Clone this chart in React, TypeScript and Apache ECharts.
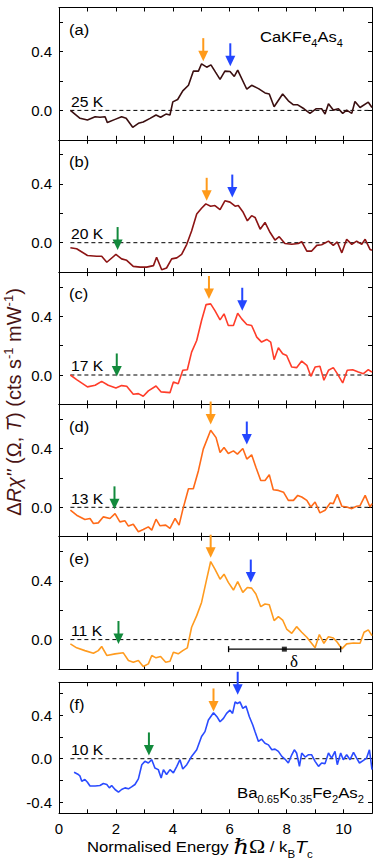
import React, { useEffect, useRef } from 'react';
import * as echarts from 'echarts';

const FONT = '"Liberation Sans", Arial, Helvetica, sans-serif';
const SERIF = '"Liberation Serif", "DejaVu Serif", serif';

// ---- data (x = normalised energy, y = ΔRχ'') ----
const PANEL_A: number[][] = [
  [0.40, 0.00], [0.74, -0.054], [1.00, -0.065], [1.27, -0.043], [1.44, -0.047], [1.62, -0.043], [1.70, -0.083],
  [1.97, -0.061], [2.20, -0.043], [2.36, -0.054], [2.59, -0.115], [2.79, -0.088], [2.96, -0.079], [3.20, -0.054],
  [3.41, -0.031], [3.57, -0.047], [3.76, -0.025], [3.90, -0.031], [4.00, 0.058], [4.17, 0.074], [4.35, 0.133],
  [4.55, 0.171], [4.72, 0.267], [4.90, 0.267], [5.01, 0.317], [5.19, 0.294], [5.34, 0.310], [5.50, 0.26], [5.66, 0.211],
  [5.83, 0.267], [6.01, 0.265], [6.16, 0.231], [6.28, 0.274], [6.60, 0.144], [6.77, 0.171], [7.01, 0.148],
  [7.24, 0.119], [7.39, 0.112], [7.56, 0.025], [7.86, 0.112], [8.06, 0.065], [8.24, 0.038], [8.39, 0.038],
  [8.61, 0.011], [8.82, -0.020], [9.03, 0.011], [9.23, 0.011], [9.35, -0.025], [9.47, 0.045], [9.64, 0.002],
  [9.82, 0.011], [9.97, -0.020], [10.11, 0.002], [10.29, -0.020], [10.40, 0.061], [10.58, 0.020], [10.87, 0.056],
  [11.00, 0.020],
];
const PANEL_B: number[][] = [
  [0.40, -0.034], [0.62, -0.041], [1.00, -0.087], [1.32, -0.092], [1.50, -0.092], [1.68, -0.133], [2.00, -0.080],
  [2.20, -0.110], [2.38, -0.120], [2.61, -0.161], [2.85, -0.166], [3.08, -0.166], [3.32, -0.156], [3.43, -0.099],
  [3.61, -0.184], [3.78, -0.172], [3.96, -0.110], [4.14, -0.103], [4.31, -0.080], [4.49, -0.011], [4.66, 0.080],
  [4.84, 0.195], [5.01, 0.234], [5.16, 0.264], [5.33, 0.248], [5.48, 0.253], [5.66, 0.225], [5.83, 0.285],
  [6.01, 0.276], [6.19, 0.248], [6.30, 0.253], [6.46, 0.211], [6.62, 0.149], [6.77, 0.184], [6.89, 0.172],
  [7.07, 0.092], [7.24, 0.138], [7.42, 0.069], [7.59, 0.018], [7.74, 0.041], [7.94, -0.005], [8.18, -0.011],
  [8.41, -0.005], [8.53, 0.007], [8.71, -0.057], [8.88, -0.057], [9.06, -0.018], [9.23, -0.014], [9.47, 0.011],
  [9.64, -0.018], [9.78, 0.005], [9.94, -0.069], [10.11, 0.023], [10.29, -0.011], [10.46, 0.011], [10.64, -0.011],
  [10.76, 0.023], [10.93, -0.046], [11.00, -0.051],
];
const PANEL_C: number[][] = [
  [0.40, 0.000], [0.62, -0.032], [1.00, -0.081], [1.27, -0.070], [1.50, -0.043], [1.73, -0.070], [2.00, -0.088],
  [2.20, -0.072], [2.38, -0.077], [2.61, -0.131], [2.79, -0.127], [2.96, -0.145], [3.14, -0.108], [3.41, -0.075],
  [3.59, -0.115], [3.90, -0.120], [4.02, -0.047], [4.19, -0.059], [4.35, 0.032], [4.51, 0.036], [4.66, 0.156],
  [4.84, 0.235], [5.01, 0.371], [5.17, 0.479], [5.33, 0.484], [5.48, 0.438], [5.66, 0.375], [5.80, 0.416],
  [5.95, 0.337], [6.13, 0.337], [6.28, 0.420], [6.42, 0.382], [6.60, 0.344], [6.77, 0.337], [6.95, 0.258],
  [7.12, 0.224], [7.30, 0.242], [7.44, 0.224], [7.56, 0.104], [7.71, 0.185], [7.86, 0.145], [8.00, 0.133],
  [8.18, 0.054], [8.35, 0.050], [8.53, 0.095], [8.71, 0.066], [8.85, -0.009], [9.00, 0.054], [9.17, 0.059],
  [9.31, -0.036], [9.47, 0.032], [9.64, 0.050], [9.78, 0.009], [9.97, -0.054], [10.13, 0.032], [10.32, 0.036],
  [10.52, 0.020], [10.70, 0.009], [10.87, 0.036], [11.00, 0.020],
];
const PANEL_D: number[][] = [
  [0.40, -0.020], [0.62, -0.054], [0.91, -0.083], [1.09, -0.076], [1.21, -0.110], [1.38, -0.106], [1.56, -0.065],
  [1.79, -0.076], [1.97, -0.043], [2.14, -0.099], [2.32, -0.092], [2.44, -0.128], [2.61, -0.115], [2.79, -0.166],
  [2.96, -0.151], [3.14, -0.133], [3.26, -0.155], [3.41, -0.081], [3.55, -0.126], [3.75, -0.121], [3.90, -0.144],
  [4.08, -0.076], [4.22, -0.121], [4.35, -0.016], [4.55, 0.126], [4.72, 0.126], [4.90, 0.249], [5.07, 0.396],
  [5.33, 0.524], [5.52, 0.474], [5.66, 0.373], [5.80, 0.407], [5.95, 0.366], [6.13, 0.384], [6.27, 0.362],
  [6.46, 0.400], [6.60, 0.328], [6.77, 0.357], [6.92, 0.272], [7.09, 0.182], [7.24, 0.182], [7.39, 0.222],
  [7.53, 0.119], [7.71, 0.115], [7.89, 0.103], [8.06, 0.047], [8.24, 0.047], [8.39, 0.081], [8.53, 0.070],
  [8.71, 0.047], [8.85, 0.002], [9.00, 0.036], [9.17, -0.038], [9.35, -0.020], [9.53, 0.029], [9.64, 0.025],
  [9.78, 0.088], [9.94, 0.007], [10.11, 0.002], [10.29, -0.009], [10.46, 0.007], [10.58, 0.011], [10.76, 0.081],
  [10.93, 0.002], [11.00, 0.025],
];
const PANEL_E: number[][] = [
  [0.40, -0.029], [0.62, -0.056], [0.91, -0.075], [1.21, -0.093], [1.38, -0.075], [1.50, -0.047], [1.68, -0.108],
  [1.97, -0.097], [2.26, -0.090], [2.44, -0.142], [2.61, -0.154], [2.79, -0.142], [2.96, -0.183], [3.14, -0.165],
  [3.26, -0.108], [3.41, -0.124], [3.57, -0.115], [3.75, -0.154], [3.90, -0.147], [4.02, -0.086], [4.19, -0.097],
  [4.35, -0.075], [4.51, -0.056], [4.66, 0.084], [4.84, 0.163], [5.01, 0.253], [5.19, 0.411], [5.33, 0.531],
  [5.48, 0.479], [5.66, 0.411], [5.80, 0.445], [5.95, 0.389], [6.13, 0.337], [6.28, 0.395], [6.46, 0.321],
  [6.62, 0.355], [6.77, 0.350], [6.92, 0.310], [7.09, 0.224], [7.24, 0.242], [7.39, 0.237], [7.56, 0.129],
  [7.71, 0.156], [7.86, 0.133], [8.00, 0.072], [8.18, 0.043], [8.35, 0.088], [8.53, 0.050], [8.71, 0.016],
  [9.00, -0.056], [9.15, 0.034], [9.31, -0.025], [9.47, 0.020], [9.64, 0.011], [9.78, -0.018], [9.94, -0.063],
  [10.11, -0.029], [10.35, -0.023], [10.58, -0.025], [10.72, 0.050], [10.87, 0.066], [11.00, 0.027],
];
const PANEL_F: number[][] = [
  [0.53, -0.124], [0.68, -0.145], [0.74, -0.160], [0.80, -0.206], [0.91, -0.190], [1.00, -0.215], [1.09, -0.250],
  [1.27, -0.250], [1.44, -0.245], [1.56, -0.227], [1.68, -0.236], [1.77, -0.267], [1.85, -0.245], [1.97, -0.282],
  [2.09, -0.306], [2.20, -0.282], [2.32, -0.267], [2.44, -0.276], [2.55, -0.258], [2.67, -0.236], [2.79, -0.185],
  [2.91, -0.055], [3.02, -0.024], [3.14, -0.039], [3.26, -0.009], [3.37, -0.085], [3.49, -0.100], [3.59, -0.176],
  [3.67, -0.100], [3.78, -0.145], [3.90, -0.100], [4.02, -0.130], [4.14, -0.070], [4.25, -0.009], [4.35, -0.094],
  [4.49, -0.055], [4.66, 0.021], [4.84, 0.082], [5.01, 0.203], [5.13, 0.248], [5.25, 0.355], [5.43, 0.421],
  [5.55, 0.385], [5.66, 0.339], [5.78, 0.370], [5.89, 0.415], [6.01, 0.445], [6.10, 0.415], [6.19, 0.521],
  [6.27, 0.506], [6.36, 0.521], [6.46, 0.461], [6.57, 0.482], [6.69, 0.385], [6.81, 0.309], [6.89, 0.248],
  [7.01, 0.158], [7.12, 0.179], [7.24, 0.142], [7.36, 0.127], [7.48, 0.082], [7.59, 0.088], [7.71, 0.067],
  [7.83, 0.021], [7.94, -0.003], [8.06, -0.039], [8.18, 0.036], [8.27, 0.082], [8.35, 0.052], [8.45, -0.070],
  [8.53, 0.052], [8.65, 0.015], [8.76, 0.036], [8.88, 0.036], [9.00, -0.024], [9.12, -0.070], [9.23, -0.039],
  [9.35, -0.045], [9.47, 0.052], [9.58, 0.006], [9.70, 0.067], [9.78, -0.055], [9.90, 0.052], [9.99, -0.009],
  [10.11, 0.036], [10.23, -0.009], [10.35, 0.058], [10.46, 0.006], [10.56, -0.039], [10.70, -0.015], [10.81, 0.006],
  [10.91, 0.082], [11.00, -0.100],
];

// arrows: [x, tip y, kind] kind 0 = orange, 1 = blue, 2 = green
const ARROWS_A = [[5.07, 0.335, 0], [6.02, 0.30, 1]];
const ARROWS_B = [[5.19, 0.285, 0], [6.09, 0.307, 1], [2.06, -0.05, 2]];
const ARROWS_C = [[5.27, 0.517, 0], [6.44, 0.437, 1], [2.03, -0.01, 2]];
const ARROWS_D = [[5.33, 0.563, 0], [6.60, 0.427, 1], [1.95, -0.014, 2]];
const ARROWS_E = [[5.33, 0.557, 0], [6.74, 0.388, 1], [2.09, -0.03, 2]];
const ARROWS_F = [[5.43, 0.433, 0], [6.28, 0.586, 1], [3.16, 0.03, 2]];
const ARROW_COLORS = ['#ff9a1a', '#2346ff', '#128a3c'];

const DELTA_BAR = [[5.96, -0.065], [9.9, -0.065]];
const DELTA_MID = [[7.92, -0.065]];

const ZERO_LINE = [[0.4, 0], [11, 0]];
const X_TICKS = [1, 2, 3, 4, 5, 6, 7, 8, 9, 10];
const X_LABELS = [0, 2, 4, 6, 8, 10];
const Y_TICKS = [0, 0.2, 0.4, 0.6];
const Y_LABELS = [0, 0.4];
const Y_TICKS_F = [-0.4, -0.2, 0, 0.2, 0.4, 0.6];
const Y_LABELS_F = [-0.4, 0, 0.4];

const LABELS = ['(a)', '(b)', '(c)', '(d)', '(e)', '(f)'];
const TEMPS = ['25 K', '20 K', '17 K', '13 K', '11 K', '10 K'];
const COLORS = ['#3b0f10', '#8c1414', '#ff3d2a', '#ff6a18', '#ff9b1f', '#2a4bff'];

const LEFT = 59;
const WIDTH = 313;

function buildOption() {
  const datas = [PANEL_A, PANEL_B, PANEL_C, PANEL_D, PANEL_E, PANEL_F];
  const arrows = [ARROWS_A, ARROWS_B, ARROWS_C, ARROWS_D, ARROWS_E, ARROWS_F];
  const tops = [7.5, 139.8, 272.1, 404.4, 536.7, 682.3];
  const heights = [132.3, 132.3, 132.3, 132.3, 132.3, 131];
  const grids: any[] = [];
  const xAxes: any[] = [];
  const yAxes: any[] = [];
  const series: any[] = [];
  const graphics: any[] = [];

  for (let i = 0; i < 6; i++) {
    const isF = i === 5;
    const min = isF ? -0.5 : -0.2;
    const max = 0.7;
    grids.push({ left: LEFT, width: WIDTH, top: tops[i], height: heights[i] });
    const xBase = {
      type: 'value', gridIndex: i, min: 0, max: 11,
      axisLine: { show: true, onZero: false, lineStyle: { color: '#000', width: 1 } },
      axisTick: { show: true, inside: true, length: 4, customValues: X_TICKS, lineStyle: { color: '#000', width: 1 } },
      splitLine: { show: false },
    };
    xAxes.push({
      ...xBase, position: 'bottom',
      axisLabel: {
        show: isF, customValues: X_LABELS, color: '#000', fontSize: 15, fontFamily: FONT, margin: 8,
        formatter: (v: number) => String(Math.round(v)),
      },
    });
    xAxes.push({ ...xBase, position: 'top', axisLabel: { show: false } });
    const yBase = {
      type: 'value', gridIndex: i, min, max,
      axisLine: { show: true, onZero: false, lineStyle: { color: '#000', width: 1 } },
      axisTick: { show: true, inside: true, length: 4, customValues: isF ? Y_TICKS_F : Y_TICKS, lineStyle: { color: '#000', width: 1 } },
      splitLine: { show: false },
    };
    yAxes.push({
      ...yBase, position: 'left',
      axisLabel: {
        show: true, customValues: isF ? Y_LABELS_F : Y_LABELS, color: '#000', fontSize: 15, fontFamily: FONT, margin: 7,
        formatter: (v: number) => (Math.abs(v) < 1e-9 ? '0.0' : v.toFixed(1)),
      },
    });
    yAxes.push({ ...yBase, position: 'right', axisLabel: { show: false } });

    series.push({
      type: 'line', xAxisIndex: 2 * i, yAxisIndex: 2 * i, data: ZERO_LINE, symbol: 'none', silent: true,
      lineStyle: { color: '#000', width: 1, type: [4, 3] }, z: 2,
    });
    series.push({
      type: 'line', xAxisIndex: 2 * i, yAxisIndex: 2 * i, data: datas[i], symbol: 'none', showSymbol: false,
      lineStyle: { color: COLORS[i], width: 1.6 }, z: 3,
    });
    series.push({
      type: 'custom', xAxisIndex: 2 * i, yAxisIndex: 2 * i, data: arrows[i], clip: false, z: 5,
      encode: { x: 0, y: 1 },
      renderItem: (params: any, api: any) => {
        const p = api.coord([api.value(0), api.value(1)]);
        const c = ARROW_COLORS[api.value(2)];
        return {
          type: 'group',
          children: [
            { type: 'line', shape: { x1: p[0], y1: p[1] - 23, x2: p[0], y2: p[1] - 9 }, style: { stroke: c, lineWidth: 2 } },
            { type: 'polygon', shape: { points: [[p[0] - 5, p[1] - 10.5], [p[0] + 5, p[1] - 10.5], [p[0], p[1]]] }, style: { fill: c } },
          ],
        };
      },
    });

    const zeroY = tops[i] + (max / (max - min)) * heights[i];
    graphics.push({
      type: 'text', x: 69, y: tops[i] + 22, scaleX: 1.1,
      style: { text: LABELS[i], font: `15px ${FONT}`, fill: '#000', verticalAlign: 'middle', align: 'left' },
    });
    graphics.push({
      type: 'text', x: 71, y: zeroY - 8.5, scaleX: 1.12,
      style: { text: TEMPS[i], font: `14px ${FONT}`, fill: '#000', verticalAlign: 'middle', align: 'left' },
    });
  }

  // delta bar in panel (e)
  series.push({
    type: 'line', xAxisIndex: 8, yAxisIndex: 8, data: DELTA_BAR, symbol: 'rect', symbolSize: [1.3, 6], showSymbol: true,
    itemStyle: { color: '#000' }, lineStyle: { color: '#000', width: 1.2 }, z: 4,
  });
  series.push({
    type: 'scatter', xAxisIndex: 8, yAxisIndex: 8, data: DELTA_MID, symbol: 'rect', symbolSize: 5,
    itemStyle: { color: '#000' }, z: 4,
  });

  const sub = { fontSize: 10, fontFamily: FONT, fill: '#000', verticalAlign: 'bottom', lineHeight: 12 };
  const main = { fontSize: 15, fontFamily: FONT, fill: '#000', lineHeight: 22 };
  graphics.push({
    type: 'text', x: 260, y: 37, scaleX: 1.1,
    style: { text: '{n|CaKFe}{s|4}{n|As}{s|4}', rich: { n: main, s: sub }, verticalAlign: 'middle', align: 'left' },
  });
  graphics.push({
    type: 'text', x: 237, y: 793, scaleX: 1.12,
    style: { text: '{n|Ba}{s|0.65}{n|K}{s|0.35}{n|Fe}{s|2}{n|As}{s|2}', rich: { n: main, s: sub }, verticalAlign: 'middle', align: 'left' },
  });
  graphics.push({
    type: 'text', x: 294, y: 661,
    style: { text: 'δ', font: `17px ${SERIF}`, fill: '#000', verticalAlign: 'middle', align: 'center' },
  });

  // y-axis title
  const yc = '#4a1414';
  graphics.push({
    type: 'text', x: 14, y: 402, rotation: Math.PI / 2,
    style: {
      text: '{n|Δ}{i|Rχ\'\'}{n| (Ω, }{i|T}{n|) (cts s}{s|-1}{n| mW}{s|-1}{n|)}',
      align: 'center', verticalAlign: 'middle',
      rich: {
        n: { fontSize: 20, fontFamily: FONT, fill: yc, lineHeight: 25 },
        i: { fontSize: 20, fontFamily: FONT, fontStyle: 'italic', fill: yc, lineHeight: 25 },
        s: { fontSize: 13, fontFamily: FONT, fill: yc, verticalAlign: 'top', lineHeight: 12 },
      },
    },
  });
  // x-axis title
  graphics.push({
    type: 'text', x: 87, y: 847, scaleX: 1.15,
    style: {
      text: '{n|Normalised Energy }{h|ℏ}{o|Ω}{n| / k}{s|B}{t|T}{s|c}',
      align: 'left', verticalAlign: 'middle',
      rich: {
        n: { fontSize: 14.5, fontFamily: FONT, fill: '#000', lineHeight: 24 },
        h: { fontSize: 21, fontFamily: '"DejaVu Serif", serif', fontStyle: 'italic', fill: '#000', lineHeight: 24 },
        o: { fontSize: 19, fontFamily: SERIF, fill: '#000', lineHeight: 24 },
        t: { fontSize: 17, fontFamily: FONT, fontStyle: 'italic', fill: '#000', lineHeight: 24 },
        s: { fontSize: 10, fontFamily: FONT, fill: '#000', verticalAlign: 'bottom', lineHeight: 14 },
      },
    },
  });

  return {
    animation: false,
    backgroundColor: '#fff',
    grid: grids,
    xAxis: xAxes,
    yAxis: yAxes,
    series,
    graphic: graphics,
  };
}

export default function App() {
  const ref = useRef<HTMLDivElement>(null);
  useEffect(() => {
    document.body.style.margin = '0';
    const chart = echarts.init(ref.current as HTMLDivElement, null, { renderer: 'svg' });
    chart.setOption(buildOption() as any);
    return () => chart.dispose();
  }, []);
  return <div ref={ref} style={{ position: 'absolute', left: 0, top: 0, width: 382, height: 863 }} />;
}
